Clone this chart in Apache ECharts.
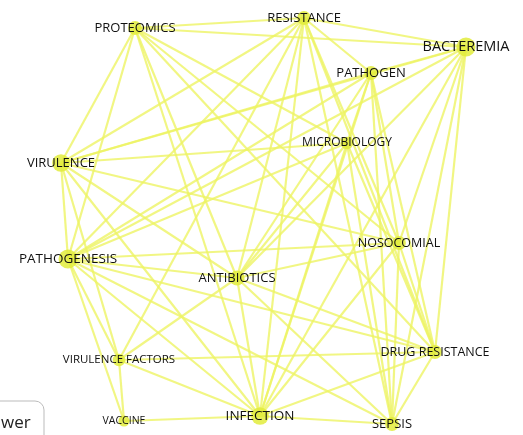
<!DOCTYPE html>
<html><head><meta charset="utf-8">
<script src="https://cdn.jsdelivr.net/npm/echarts@6/dist/echarts.min.js"></script>
<style>html,body{margin:0;padding:0;background:#fff}#c{width:523px;height:435px}</style>
</head><body><div id="c"></div>
<script>
const terms = ["PROTEOMICS","RESISTANCE","BACTEREMIA","PATHOGEN","MICROBIOLOGY","VIRULENCE","PATHOGENESIS","ANTIBIOTICS","NOSOCOMIAL","DRUG RESISTANCE","VIRULENCE FACTORS","VACCINE","INFECTION","SEPSIS"];
const mapX = [135, 304, 466, 371, 347, 61, 68, 237, 399, 435, 119, 124, 260, 392];
const mapY = [28, 18, 47, 73, 143, 163, 259, 278, 243, 352, 360, 421, 416, 424];
const weights = [6, 6, 10, 6, 5, 9, 10, 7, 6, 6, 5, 4, 9, 6];
const labelSizes = [13, 13, 14.5, 13, 12, 13, 13.5, 13, 12.5, 12.5, 11.5, 10.5, 13.5, 13];
const links = [
 ["PROTEOMICS","RESISTANCE"],["PROTEOMICS","BACTEREMIA"],["PROTEOMICS","VIRULENCE"],["PROTEOMICS","PATHOGENESIS"],["PROTEOMICS","ANTIBIOTICS"],["PROTEOMICS","INFECTION"],["PROTEOMICS","NOSOCOMIAL"],["PROTEOMICS","DRUG RESISTANCE"],["PROTEOMICS","MICROBIOLOGY"],
 ["RESISTANCE","BACTEREMIA"],["RESISTANCE","PATHOGEN"],["RESISTANCE","VIRULENCE"],["RESISTANCE","PATHOGENESIS"],["RESISTANCE","ANTIBIOTICS"],["RESISTANCE","INFECTION"],["RESISTANCE","NOSOCOMIAL"],["RESISTANCE","SEPSIS"],["RESISTANCE","DRUG RESISTANCE"],["RESISTANCE","VIRULENCE FACTORS"],
 ["BACTEREMIA","PATHOGEN"],["BACTEREMIA","VIRULENCE"],["BACTEREMIA","ANTIBIOTICS"],["BACTEREMIA","NOSOCOMIAL"],["BACTEREMIA","DRUG RESISTANCE"],["BACTEREMIA","SEPSIS"],["BACTEREMIA","INFECTION"],["BACTEREMIA","PATHOGENESIS"],
 ["PATHOGEN","VIRULENCE"],["PATHOGEN","PATHOGENESIS"],["PATHOGEN","MICROBIOLOGY"],["PATHOGEN","NOSOCOMIAL"],["PATHOGEN","SEPSIS"],["PATHOGEN","DRUG RESISTANCE"],["PATHOGEN","ANTIBIOTICS"],["PATHOGEN","INFECTION"],
 ["MICROBIOLOGY","VIRULENCE"],["MICROBIOLOGY","PATHOGENESIS"],["MICROBIOLOGY","INFECTION"],["MICROBIOLOGY","DRUG RESISTANCE"],["MICROBIOLOGY","SEPSIS"],["MICROBIOLOGY","ANTIBIOTICS"],
 ["VIRULENCE","PATHOGENESIS"],["VIRULENCE","VIRULENCE FACTORS"],["VIRULENCE","ANTIBIOTICS"],["VIRULENCE","INFECTION"],["VIRULENCE","NOSOCOMIAL"],
 ["PATHOGENESIS","VIRULENCE FACTORS"],["PATHOGENESIS","VACCINE"],["PATHOGENESIS","INFECTION"],["PATHOGENESIS","ANTIBIOTICS"],["PATHOGENESIS","NOSOCOMIAL"],["PATHOGENESIS","SEPSIS"],["PATHOGENESIS","DRUG RESISTANCE"],
 ["ANTIBIOTICS","NOSOCOMIAL"],["ANTIBIOTICS","DRUG RESISTANCE"],["ANTIBIOTICS","INFECTION"],["ANTIBIOTICS","SEPSIS"],["ANTIBIOTICS","VIRULENCE FACTORS"],
 ["NOSOCOMIAL","INFECTION"],["NOSOCOMIAL","SEPSIS"],["NOSOCOMIAL","DRUG RESISTANCE"],
 ["DRUG RESISTANCE","INFECTION"],["DRUG RESISTANCE","SEPSIS"],["DRUG RESISTANCE","VIRULENCE FACTORS"],
 ["VIRULENCE FACTORS","INFECTION"],["VIRULENCE FACTORS","VACCINE"],["VACCINE","INFECTION"],["INFECTION","SEPSIS"]
];

const chart = echarts.init(document.getElementById('c'));
const nodes = terms.map((t,i)=>({
  name: t, value: [mapX[i], mapY[i]], weight: weights[i],
  symbolSize: 6 + weights[i]*1.3,
  label: { fontSize: labelSizes[i] }
}));
chart.setOption({
  animation: false,
  grid: { left: 0, right: 0, top: 0, bottom: 0 },
  xAxis: { type: 'value', min: 0, max: 523, show: false },
  yAxis: { type: 'value', min: 0, max: 435, inverse: true, show: false },
  graphic: [
    { type: 'rect', shape: { x: -20, y: 401, width: 64, height: 50, r: 9 }, style: { fill: '#fff', stroke: '#bbb', lineWidth: 1 }, z: 100 },
    { type: 'text', x: 1, y: 415, style: { text: 'wer', fontFamily: 'Open Sans', fontSize: 17, fill: '#222' }, z: 101 }
  ],
  series: [{
    type: 'graph',
    coordinateSystem: 'cartesian2d',
    layout: 'none',
    data: nodes,
    links: links.map(l=>({source: l[0], target: l[1]})),
    itemStyle: { color: 'rgba(226,236,60,0.85)' },
    lineStyle: { color: 'rgba(238,244,100,0.8)', width: 2.2, opacity: 1 },
    label: { show: true, position: 'inside', color: '#111', fontFamily: 'Open Sans' },
    z: 2
  }]
});
</script></body></html>
